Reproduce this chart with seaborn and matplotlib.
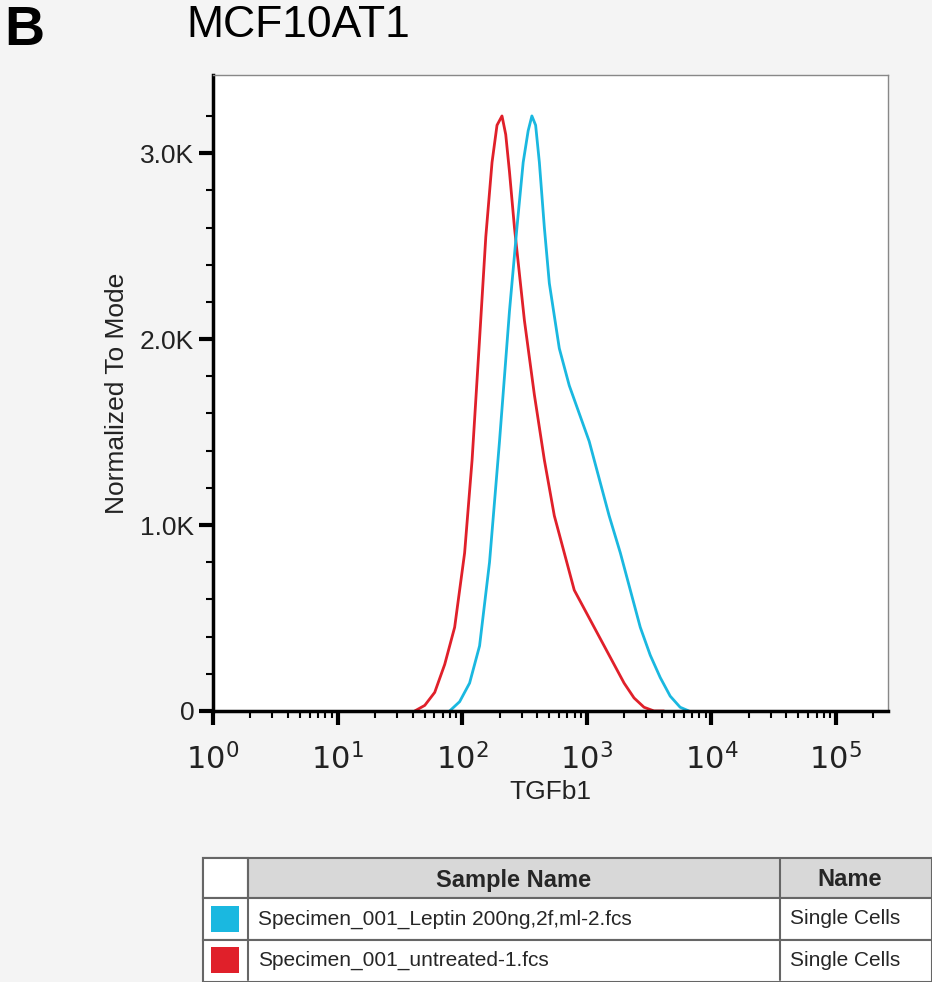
import numpy as np, pandas as pd, matplotlib
matplotlib.use("Agg")
import matplotlib.pyplot as plt
import seaborn as sns
from matplotlib.patches import Rectangle

sns.set_style("white")
plt.rcParams['font.family'] = ['Liberation Sans', 'DejaVu Sans']

# log10(TGFb1) positions and counts (K)
leptin_x = [1.90, 1.98, 2.06, 2.14, 2.22, 2.30, 2.38, 2.44, 2.49, 2.53, 2.56, 2.59, 2.62, 2.66, 2.70, 2.78, 2.86, 2.94, 3.02, 3.10, 3.18, 3.27, 3.35, 3.43, 3.51, 3.59, 3.67, 3.75, 3.82]
leptin_y = [0.0, 0.05, 0.15, 0.35, 0.8, 1.45, 2.15, 2.6, 2.95, 3.12, 3.2, 3.15, 2.95, 2.6, 2.3, 1.95, 1.75, 1.6, 1.45, 1.25, 1.05, 0.85, 0.65, 0.45, 0.3, 0.18, 0.08, 0.02, 0.0]
untreated_x = [1.62, 1.70, 1.78, 1.86, 1.94, 2.02, 2.08, 2.14, 2.19, 2.24, 2.28, 2.32, 2.35, 2.38, 2.42, 2.50, 2.58, 2.66, 2.74, 2.82, 2.90, 2.98, 3.06, 3.14, 3.22, 3.30, 3.38, 3.46, 3.54, 3.62]
untreated_y = [0.0, 0.03, 0.1, 0.25, 0.45, 0.85, 1.35, 2.0, 2.55, 2.95, 3.15, 3.2, 3.1, 2.9, 2.6, 2.1, 1.7, 1.35, 1.05, 0.85, 0.65, 0.55, 0.45, 0.35, 0.25, 0.15, 0.07, 0.02, 0.0, 0.0]
labels = ["Specimen_001_Leptin 200ng,2f,ml-2.fcs", "Specimen_001_untreated-1.fcs"]
colors = ["#1ab8e0", "#e0202a"]

df = pd.concat([
    pd.DataFrame({"x": leptin_x, "y": leptin_y, "s": labels[0]}),
    pd.DataFrame({"x": untreated_x, "y": untreated_y, "s": labels[1]}),
])

fig = plt.figure(figsize=(9.32, 9.82), dpi=100, facecolor="#f4f4f4")
ax = fig.add_axes([0.2285, 0.276, 0.7245, 0.6476])
sns.lineplot(data=df, x="x", y="y", hue="s", hue_order=labels[::-1],
             palette=colors[::-1], ax=ax, legend=False, linewidth=2, sort=False)
ax.set_xlim(0, 5.42); ax.set_ylim(0, 3.42)
ax.set_facecolor("white")
for s in ax.spines.values():
    s.set_color("#888888"); s.set_linewidth(1)
ax.spines["bottom"].set_color("black"); ax.spines["bottom"].set_linewidth(2.5)
ax.spines["left"].set_color("black"); ax.spines["left"].set_linewidth(2.5)
ax.set_yticks([0, 1, 2, 3]); ax.set_yticklabels(["0", "1.0K", "2.0K", "3.0K"], fontsize=19)
ax.set_yticks(np.arange(0, 3.4, 0.2), minor=True)
ax.set_xticks(range(6))
ax.set_xticklabels([f"$10^{{{i}}}$" for i in range(6)], fontsize=22)
minor = [d + np.log10(k) for d in range(6) for k in range(2, 10) if d + np.log10(k) < 5.42]
ax.set_xticks(minor, minor=True)
ax.tick_params(axis="both", which="both", bottom=True, left=True, labelcolor="#222222")
ax.tick_params(axis="both", which="major", length=10, width=3, color="black", direction="out")
ax.tick_params(axis="both", which="minor", length=5, width=1.5, color="black", direction="out")
ax.tick_params(axis="x", pad=14)
ax.set_xlabel("TGFb1", fontsize=19, labelpad=2, color="#222222")
ax.set_ylabel("Normalized To Mode", fontsize=19, labelpad=8, color="#222222")
fig.text(0.005, 0.995, "B", fontsize=40, fontweight="bold", va="top", color="black")
fig.text(0.2, 0.995, "MCF10AT1", fontsize=32, va="top", color="black")

# table
tab = fig.add_axes([0, 0, 1, 1], facecolor="none")
tab.set_xlim(0, 932); tab.set_ylim(982, 0); tab.axis("off")
rows = [(858, 898), (898, 940), (940, 980)]
tab.add_patch(Rectangle((203, 858), 729, 40, facecolor="#d8d8d8", edgecolor="#666666", lw=1.5))
tab.add_patch(Rectangle((203, 858), 45, 40, facecolor="white", edgecolor="#666666", lw=1.5))
for r in rows[1:]:
    tab.add_patch(Rectangle((203, r[0]), 729, 42, facecolor="white", edgecolor="#666666", lw=1.5))
for x in [248, 780]:
    tab.plot([x, x], [858, 980], color="#666666", lw=1.5)
tab.text(514, 880, "Sample Name", ha="center", va="center", fontsize=17, fontweight="bold")
tab.text(850, 880, "Name", ha="center", va="center", fontsize=17, fontweight="bold")
for i, (lab, c) in enumerate(zip(labels, colors)):
    y = (rows[i + 1][0] + rows[i + 1][1]) / 2
    tab.add_patch(Rectangle((211, y - 13), 28, 26, facecolor=c, edgecolor="none"))
    tab.text(258, y, lab, va="center", fontsize=15)
    tab.text(790, y, "Single Cells", va="center", fontsize=15)
fig.savefig("out.png", dpi=100, facecolor=fig.get_facecolor())
